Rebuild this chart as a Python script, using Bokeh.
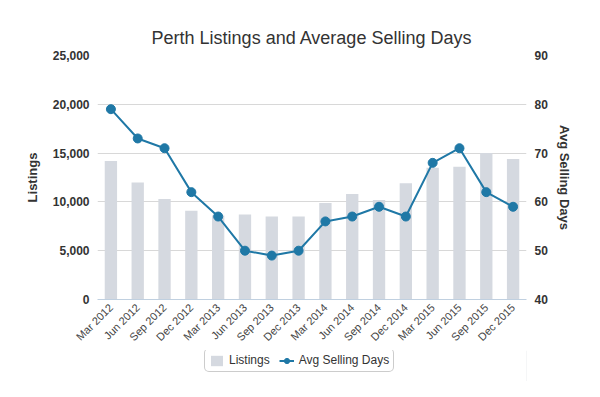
from bokeh.plotting import figure
from bokeh.layouts import column
from bokeh.models import (Range1d, LinearAxis, FactorRange, FixedTicker,
                          NumeralTickFormatter, Legend, LegendItem, ColumnDataSource)
from bokeh.embed import file_html
from bokeh.resources import INLINE
import math

quarters = ["Mar 2012", "Jun 2012", "Sep 2012", "Dec 2012",
            "Mar 2013", "Jun 2013", "Sep 2013", "Dec 2013",
            "Mar 2014", "Jun 2014", "Sep 2014", "Dec 2014",
            "Mar 2015", "Jun 2015", "Sep 2015", "Dec 2015"]
listings = [14200, 12000, 10300, 9100, 8600, 8700, 8500, 8500,
            9900, 10800, 10200, 11900, 13500, 13600, 15000, 14400]
avg_days = [79, 73, 71, 62, 57, 50, 49, 50, 56, 57, 59, 57, 68, 71, 62, 59]
left_ticks = [0, 5000, 10000, 15000, 20000, 25000]
right_ticks = [40, 50, 60, 70, 80, 90]

FONT = "Liberation Sans"
BAR = "#d5d9e0"
LINE = "#1f78a6"

src = ColumnDataSource(dict(q=quarters, listings=listings, days=avg_days))

p = figure(width=584, height=350, x_range=FactorRange(*quarters),
           y_range=Range1d(0, 25000), output_backend="svg", toolbar_location=None,
           min_border_left=97, min_border_right=58, min_border_top=55,
           min_border_bottom=50)
p.outline_line_color = None
p.background_fill_color = "white"
p.border_fill_color = "white"

p.title.text = "Perth Listings and Average Selling Days"
p.title.align = "center"
p.title.text_font = FONT
p.title.text_font_size = "18px"
p.title.text_font_style = "normal"
p.title.text_color = "#333333"
p.title.standoff = 16

p.extra_y_ranges = {"days": Range1d(40, 90)}

bars = p.vbar(x="q", top="listings", width=0.46, source=src,
              fill_color=BAR, line_color=None)
line = p.line(x="q", y="days", source=src, y_range_name="days",
              line_color=LINE, line_width=2)
dots = p.scatter(x="q", y="days", source=src, y_range_name="days",
                 size=9, fill_color=LINE, line_color=LINE)

# grid
p.xgrid.grid_line_color = None
p.ygrid.grid_line_color = "#d8d8d8"
p.ygrid.ticker = FixedTicker(ticks=left_ticks)

# left axis
ya = p.yaxis[0]
ya.ticker = FixedTicker(ticks=left_ticks)
ya.formatter = NumeralTickFormatter(format="0,0")
ya.axis_label = "Listings"
ya.axis_line_color = None
ya.major_tick_line_color = None
ya.minor_tick_line_color = None
ya.major_tick_out = 0
ya.major_label_standoff = 8
ya.major_label_text_font = FONT
ya.major_label_text_font_size = "12px"
ya.major_label_text_font_style = "bold"
ya.major_label_text_color = "#333333"
ya.axis_label_text_font = FONT
ya.axis_label_text_font_size = "13px"
ya.axis_label_text_font_style = "bold"
ya.axis_label_text_color = "#333333"
ya.axis_label_standoff = 10

# right axis
ra = LinearAxis(y_range_name="days", ticker=FixedTicker(ticks=right_ticks),
                axis_label="Avg Selling Days")
ra.axis_line_color = None
ra.major_tick_line_color = None
ra.minor_tick_line_color = None
ra.major_tick_out = 0
ra.major_label_standoff = 8
ra.major_label_text_font = FONT
ra.major_label_text_font_size = "12px"
ra.major_label_text_font_style = "bold"
ra.major_label_text_color = "#333333"
ra.axis_label_text_font = FONT
ra.axis_label_text_font_size = "13px"
ra.axis_label_text_font_style = "bold"
ra.axis_label_text_color = "#333333"
ra.axis_label_standoff = 6
p.add_layout(ra, "right")

# x axis
xa = p.xaxis[0]
xa.axis_line_color = "#c0d0e0"
xa.major_tick_line_color = None
xa.minor_tick_line_color = None
xa.major_tick_out = 0
xa.major_label_orientation = math.pi / 4
xa.major_label_standoff = 6
xa.major_label_text_font = FONT
xa.major_label_text_font_size = "11px"
xa.major_label_text_color = "#444444"

# legend strip below the chart (glyph data lies outside its visible ranges)
lf = figure(width=584, height=31, x_range=Range1d(0, 1), y_range=Range1d(0, 1),
            output_backend="svg", toolbar_location=None, min_border=0)
lf.axis.visible = False
lf.grid.visible = False
lf.outline_line_color = None
lbar = lf.vbar(x=[10], top=[1], width=0.5, fill_color=BAR, line_color=None)
lline = lf.line(x=[10, 11], y=[0, 0], line_color=LINE, line_width=2)
ldot = lf.scatter(x=[10], y=[0], size=9, fill_color=LINE, line_color=LINE)

legend = Legend(items=[LegendItem(label="Listings", renderers=[lbar]),
                       LegendItem(label="Avg Selling Days", renderers=[lline, ldot])],
                location=(107, 9), orientation="horizontal")
legend.label_text_font = FONT
legend.label_text_font_size = "12px"
legend.label_text_color = "#333333"
legend.glyph_width = 15
legend.glyph_height = 13
legend.label_standoff = 5
legend.spacing = 9
legend.padding = 4
legend.margin = 0
legend.border_line_color = "#999999"
legend.border_line_width = 1
legend.border_radius = 5
legend.background_fill_color = "white"
legend.background_fill_alpha = 1
lf.add_layout(legend)

layout = column(p, lf, spacing=0)
open("out.html", "w").write(file_html(layout, INLINE))
